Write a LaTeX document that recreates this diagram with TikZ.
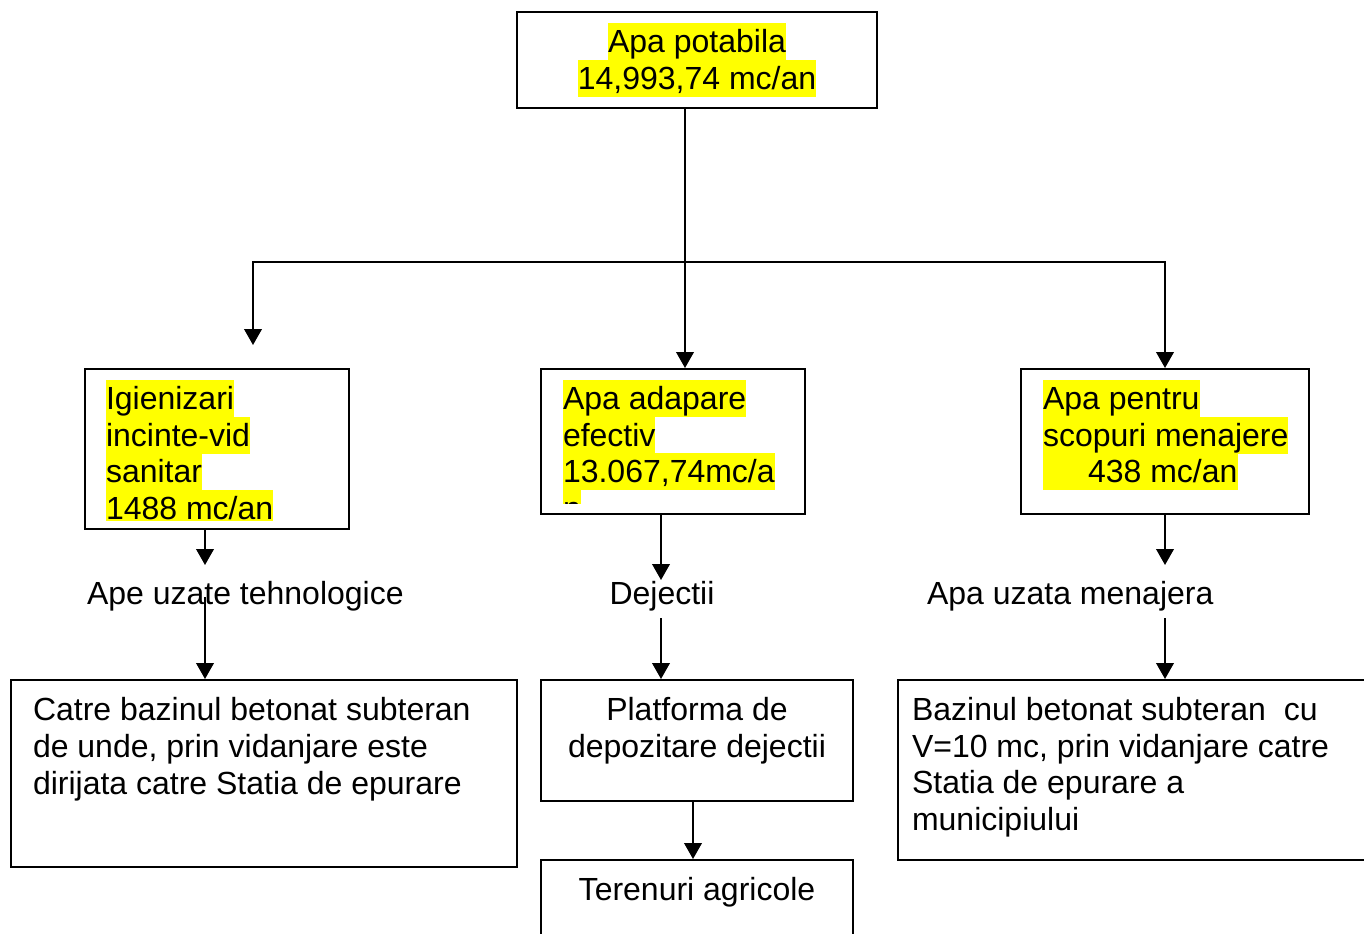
\documentclass[tikz,border=0pt]{standalone}
\usepackage{fontspec}
\setmainfont{Liberation Sans}
\usetikzlibrary{arrows.meta}

\begin{document}
\begin{tikzpicture}[x=0.375pt, y=-0.375pt, line width=0.75pt,
	font=\fontsize{12pt}{13.8pt}\selectfont,
	>={Triangle[length=6pt,width=6.6pt]}]
	\definecolor{marker}{RGB}{255,255,0}
	\tikzset{
		box/.style={draw, line width=0.75pt, inner sep=0pt},
		hl/.style={fill=marker, inner sep=0pt, text height=10.9pt, text depth=2.9pt, anchor=base west},
		txt/.style={inner sep=0pt, anchor=base west},
		mid/.style={inner sep=0pt, anchor=base}
	}
	\clip (0,0) rectangle (1364,933);

	% boxes
	\node[box, minimum width=135pt, minimum height=36pt] (potabila) at (697,60) {};
	\node[box, minimum width=99pt, minimum height=60pt] (igienizari) at (217,449) {};
	\node[box, minimum width=99pt, minimum height=54.375pt] (adapare) at (673,441.5) {};
	\node[box, minimum width=108pt, minimum height=54.375pt] (menajere) at (1165,441.5) {};
	\node[box, minimum width=189.75pt, minimum height=70.125pt] (bazin) at (264,773.5) {};
	\node[box, minimum width=117pt, minimum height=45.375pt] (platforma) at (697,740.5) {};
	\node[box, minimum width=117pt, minimum height=37.5pt] (terenuri) at (697,910) {};
	\node[box, minimum width=181.5pt, minimum height=67.5pt] (bazinul) at (1140,770) {};

	% highlighted texts
	\node[hl, anchor=base] (potabila1) at (697,52) {Apa potabila};
	\node[hl, anchor=base] (potabila2) at (697,89) {14,993,74 mc/an};

	\begin{scope}
		\clip (85,369) rectangle (349,520);
		\node[hl] (igienizari1) at (105,409) {Igienizari};
		\node[hl] (igienizari2) at (105,446) {incinte-vid};
		\node[hl] (igienizari3) at (105,482.5) {sanitar};
		\node[hl] (igienizari4) at (105,519) {1488 mc/an};
	\end{scope}

	\begin{scope}
		\clip (541,369) rectangle (805,503);
		\node[hl] (adapare1) at (562,409) {Apa adapare};
		\node[hl] (adapare2) at (562,446) {efectiv};
		\node[hl] (adapare3) at (562,482.5) {13.067,74mc/a};
		\node[hl] (adapare4) at (562,519) {n};
	\end{scope}

	\node[hl] (menajere1) at (1042,409) {Apa pentru};
	\node[hl] (menajere2) at (1042,446) {scopuri menajere};
	\node[hl] (menajere3) at (1042,482.5) {\hspace*{16.9pt}438 mc/an};

	% plain texts
	\node[txt] (uzate) at (86,604) {Ape uzate tehnologice};
	\node[mid] (dejectii) at (662,604) {Dejectii};
	\node[txt] (uzatamen) at (926,604) {Apa uzata menajera};

	\node[txt] (bazin1) at (32,720) {Catre bazinul betonat subteran};
	\node[txt] (bazin2) at (32,757) {de unde, prin vidanjare este};
	\node[txt] (bazin3) at (32,794) {dirijata catre Statia de epurare};

	\node[mid] (platforma1) at (697,720) {Platforma de};
	\node[mid] (platforma2) at (697,757) {depozitare dejectii};
	\node[mid] (terenuri1) at (697,900) {Terenuri agricole};

	\node[txt] (bazinul1) at (911,720) {Bazinul betonat subteran~~cu};
	\node[txt] (bazinul2) at (911,757) {V=10 mc, prin vidanjare catre};
	\node[txt] (bazinul3) at (911,793) {Statia de epurare a};
	\node[txt] (bazinul4) at (911,830) {municipiului};

	% connectors
	\coordinate (split) at (685,262);
	\coordinate (lefttip) at (253,345);
	\draw[->] (potabila.south -| split) -- (adapare.north -| split);
	\draw[->] (split) -| (lefttip);
	\draw[->] (split) -| (menajere.north);

	\coordinate (l1) at (205,565);
	\coordinate (l2) at (205,597);
	\draw[->] (igienizari.south -| l1) -- (l1);
	\draw[->] (l2) -- (bazin.north -| l2);

	\coordinate (m1) at (661,580);
	\coordinate (m2) at (661,618);
	\draw[->] (adapare.south -| m1) -- (m1);
	\draw[->] (m2) -- (platforma.north -| m2);

	\coordinate (t1) at (693,830);
	\draw[->] (platforma.south -| t1) -- (terenuri.north -| t1);

	\coordinate (r1) at (1165,565);
	\coordinate (r2) at (1165,618);
	\draw[->] (menajere.south) -- (r1);
	\draw[->] (r2) -- (bazinul.north -| r2);
\end{tikzpicture}
\end{document}
